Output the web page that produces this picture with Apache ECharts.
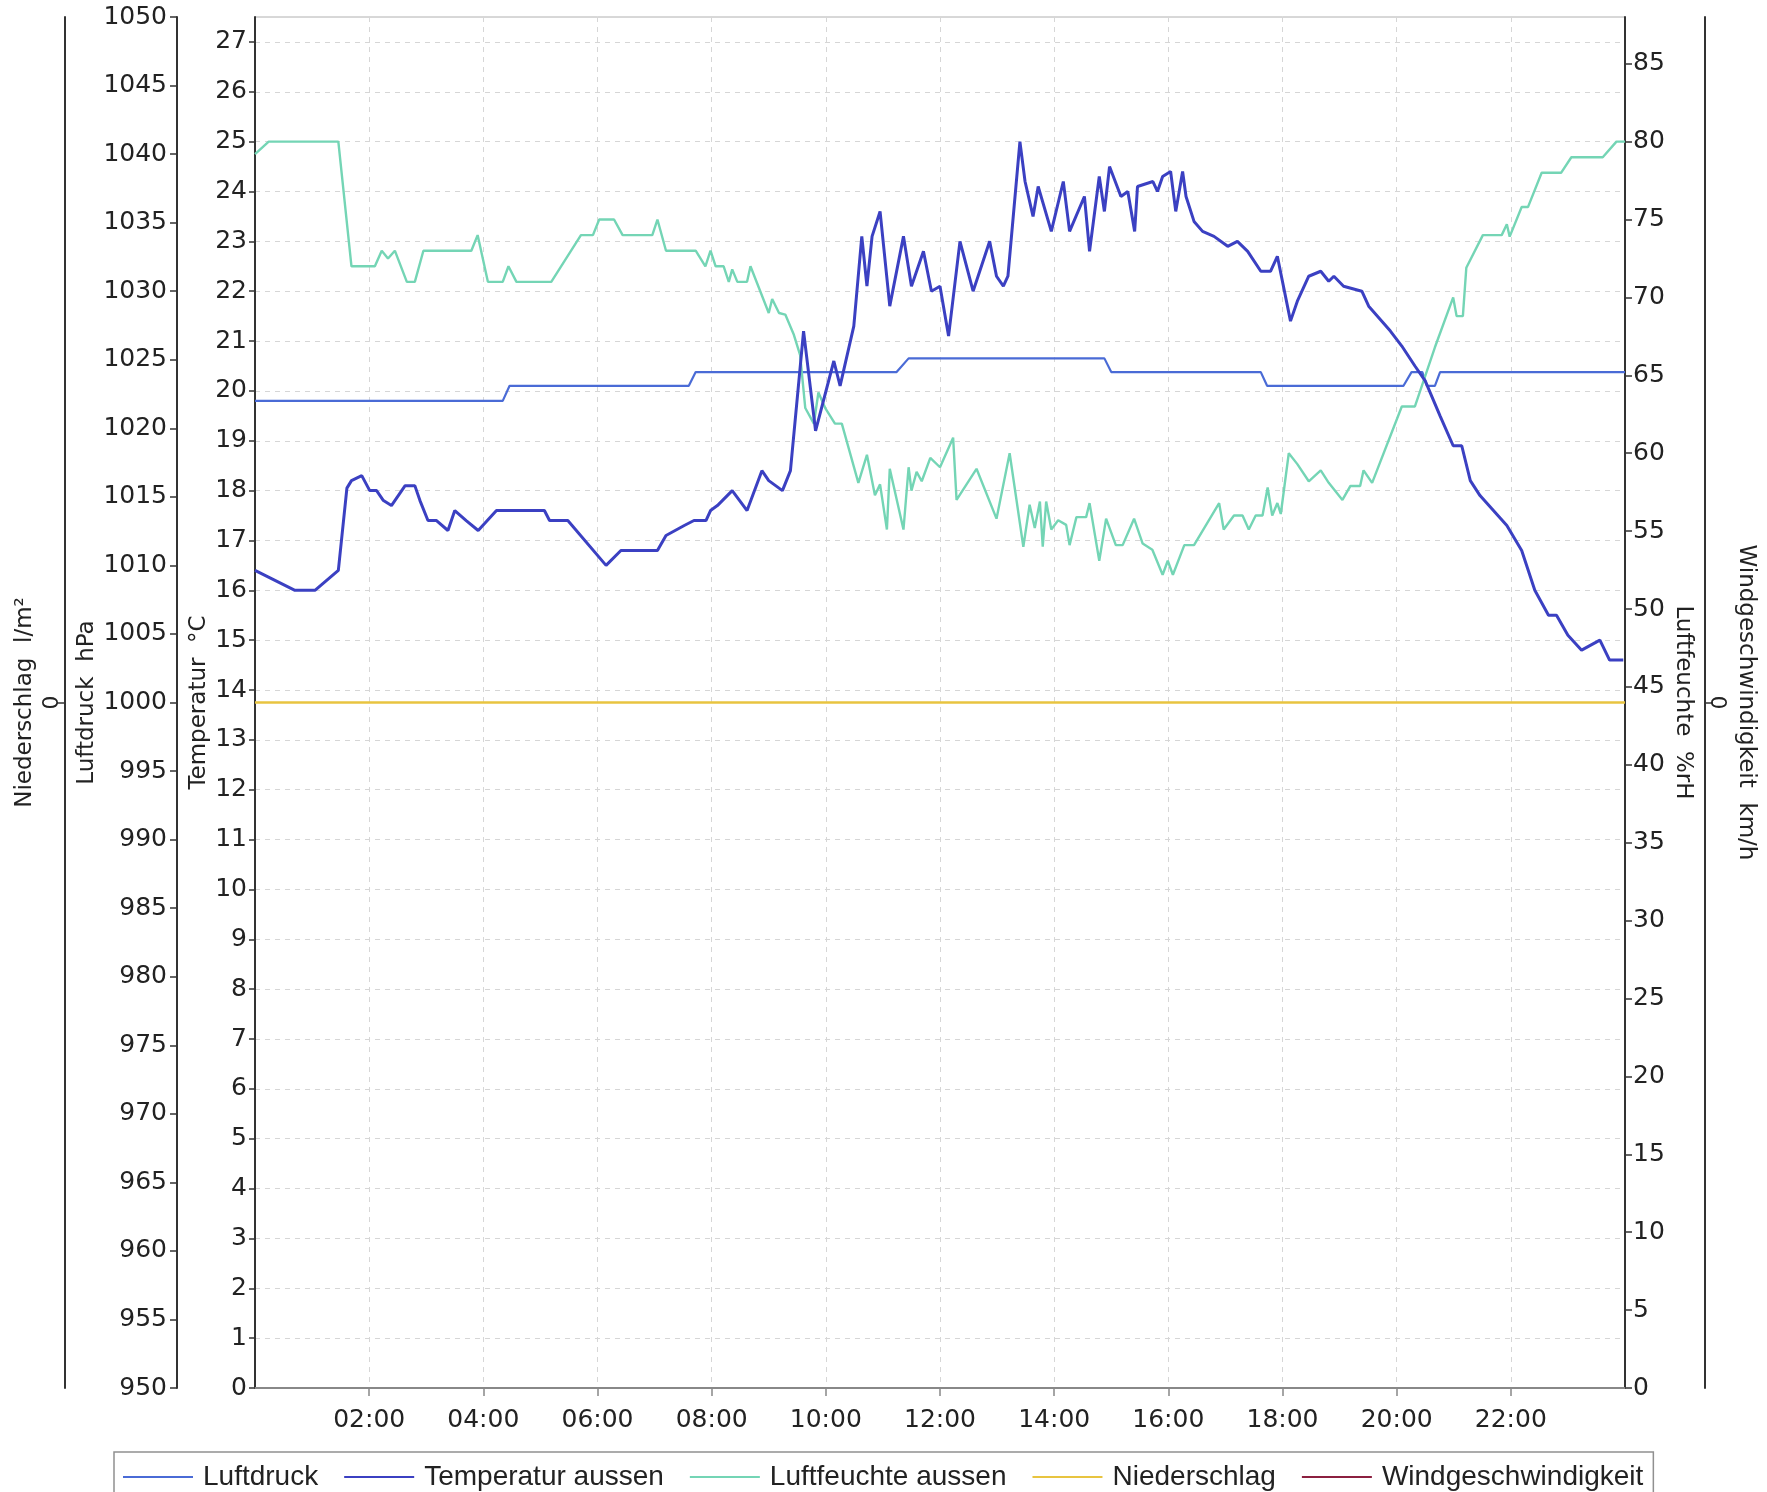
<!DOCTYPE html>
<html>
<head>
<meta charset="utf-8">
<script src="https://cdn.jsdelivr.net/npm/echarts@6/dist/echarts.min.js"></script>
<style>html,body{margin:0;padding:0;background:#fff}#c{width:1767px;height:1492px}</style>
</head>
<body>
<div id="c"></div>
<script>
// ---- Data (time in hours of the day) ----
const tempTicks = [0,1,2,3,4,5,6,7,8,9,10,11,12,13,14,15,16,17,18,19,20,21,22,23,24,25,26,27];
const humTicks  = [0,5,10,15,20,25,30,35,40,45,50,55,60,65,70,75,80,85];

const pressureTimes  = [0,4.34,4.46,7.60,7.72,11.24,11.45,14.88,15.00,17.62,17.73,20.12,20.26,20.45,20.53,20.67,20.76,24];
const pressureValues = [1022,1022,1023.1,1023.1,1024.1,1024.1,1025.1,1025.1,1024.1,1024.1,1023.1,1023.1,1024.1,1024.1,1023.1,1023.1,1024.1,1024.1];

const tempTimes = [0.0,0.7,1.05,1.46,1.61,1.69,1.87,2.01,2.13,2.25,2.39,2.63,2.80,2.89,3.03,3.18,3.38,3.50,3.70,3.91,4.23,5.07,5.16,5.48,6.15,6.41,7.05,7.20,7.52,7.69,7.90,7.98,8.10,8.36,8.62,8.88,9.00,9.24,9.38,9.61,9.82,10.14,10.25,10.49,10.63,10.72,10.81,10.95,11.12,11.36,11.50,11.71,11.85,12.00,12.15,12.35,12.58,12.87,12.99,13.11,13.19,13.40,13.49,13.63,13.72,13.95,14.16,14.27,14.53,14.62,14.79,14.88,14.97,15.17,15.29,15.41,15.46,15.73,15.81,15.90,16.04,16.13,16.25,16.31,16.45,16.60,16.80,17.04,17.21,17.39,17.62,17.79,17.91,18.14,18.26,18.46,18.67,18.81,18.90,19.07,19.39,19.51,19.89,20.09,20.32,20.50,20.76,20.99,21.14,21.29,21.46,21.93,22.19,22.42,22.66,22.80,23.00,23.24,23.56,23.73,23.97];
const tempValues = [16.4,16.0,16.0,16.4,18.05,18.2,18.3,18.0,18.0,17.8,17.7,18.1,18.1,17.8,17.4,17.4,17.2,17.6,17.4,17.2,17.6,17.6,17.4,17.4,16.5,16.8,16.8,17.1,17.3,17.4,17.4,17.6,17.7,18.0,17.6,18.4,18.2,18.0,18.4,21.2,19.2,20.6,20.1,21.3,23.1,22.1,23.1,23.6,21.7,23.1,22.1,22.8,22.0,22.1,21.1,23.0,22.0,23.0,22.3,22.1,22.3,25.0,24.2,23.5,24.1,23.2,24.2,23.2,23.9,22.8,24.3,23.6,24.5,23.9,24.0,23.2,24.1,24.2,24.0,24.3,24.4,23.6,24.4,23.9,23.4,23.2,23.1,22.9,23.0,22.8,22.4,22.4,22.7,21.4,21.8,22.3,22.4,22.2,22.3,22.1,22.0,21.7,21.2,20.9,20.5,20.2,19.5,18.9,18.9,18.2,17.9,17.3,16.8,16.0,15.5,15.5,15.1,14.8,15.0,14.6,14.6];

const humTimes = [0.0,0.24,1.46,1.69,2.10,2.22,2.33,2.45,2.66,2.80,2.95,3.79,3.90,4.08,4.34,4.44,4.58,5.19,5.71,5.92,6.03,6.29,6.44,6.96,7.05,7.20,7.72,7.89,7.98,8.07,8.21,8.30,8.36,8.45,8.62,8.68,9.00,9.06,9.18,9.29,9.44,9.55,9.64,9.79,9.87,9.99,10.16,10.28,10.57,10.72,10.86,10.95,11.07,11.12,11.36,11.45,11.50,11.59,11.68,11.83,12.00,12.23,12.29,12.64,12.99,13.22,13.46,13.57,13.66,13.75,13.80,13.86,13.95,14.07,14.21,14.27,14.39,14.56,14.62,14.79,14.91,15.08,15.20,15.40,15.55,15.72,15.90,15.99,16.08,16.28,16.45,16.89,16.97,17.15,17.30,17.41,17.53,17.65,17.74,17.82,17.91,17.97,18.11,18.26,18.46,18.67,18.81,19.05,19.19,19.36,19.42,19.57,20.09,20.32,20.67,20.99,21.05,21.16,21.22,21.51,21.84,21.93,21.98,22.19,22.30,22.54,22.88,23.06,23.61,23.85,24.0];
const humValues = [79.2,80,80,72,72,73,72.5,73,71,71,73,73,74,71,71,72,71,71,74,74,75,75,74,74,75,73,73,72,73,72,72,71,71.8,71,71,72,69,69.9,69,68.9,67.6,66.3,62.9,61.9,63.9,62.9,61.9,61.9,58.1,59.9,57.3,58,55.1,59,55.1,59.1,57.6,58.8,58.2,59.7,59.1,61,57,59,55.8,60,54,56.7,55.2,56.9,54,56.9,55.1,55.7,55.4,54.1,55.9,55.9,56.8,53.1,55.8,54.1,54.1,55.8,54.2,53.8,52.2,53.1,52.2,54.1,54.1,56.8,55.1,56,56,55.1,56,56,57.8,56,56.8,56.1,60,59.3,58.2,58.9,58.1,57,57.9,57.9,58.9,58.1,63,63,66.8,70,68.8,68.8,71.9,74,74,74.7,73.9,75.8,75.8,78,78,79,79,80,80];

const rainTimes  = [0,24];
const rainValues = [0,0];
const windTimes  = [0,24];
const windValues = [0,0];

const seriesNames = ['Luftdruck','Temperatur aussen','Luftfeuchte aussen','Niederschlag','Windgeschwindigkeit'];
const seriesColors = ['#4a6bd6','#3b40c2','#74d5b5','#e8c440','#8c2040'];

function zip(t, v){ return t.map((x,i)=>[x, v[i]]); }
function pad(n){ return (n<10?'0':'')+n; }

const tickFont = {fontFamily:'DejaVu Sans', fontSize:25, color:'#222', formatter:v=>String(v)};
const nameFont = {fontFamily:'DejaVu Sans', fontSize:23, color:'#222'};
const axisLineDark = {show:true, lineStyle:{color:'#333', width:2}};
const gridLine = {show:true, lineStyle:{color:'#d6d6d6', type:[5,5], width:1}};

const chart = echarts.init(document.getElementById('c'), null, {renderer:'canvas'});
chart.setOption({
  backgroundColor:'#ffffff',
  animation:false,
  grid:{left:255, right:142, top:17, bottom:104, show:true, borderColor:'#b0b0b0', borderWidth:1,
        containLabel:false, outerBoundsMode:'none'},
  legend:{
    left:114, top:1452,
    padding:[11,10,11,9],
    borderColor:'#909090', borderWidth:1.5,
    icon:'rect', itemWidth:70, itemHeight:2, itemGap:26,
    textStyle:{fontFamily:'Liberation Sans', fontSize:28, color:'#222', padding:[0,0,0,5]},
    data:seriesNames
  },
  xAxis:{
    type:'value', min:0, max:24, interval:2,
    axisLine:{show:true, onZero:false, lineStyle:{color:'#888', width:2}},
    axisTick:{show:true, length:8, lineStyle:{color:'#888', width:1.5}},
    axisLabel:{fontFamily:'DejaVu Sans', fontSize:25, color:'#222', margin:20, showMinLabel:false, showMaxLabel:false,
      formatter:v=>pad(v)+':00'},
    splitLine:gridLine
  },
  yAxis:[
    { // 0 Temperatur
      type:'value', position:'left', offset:0, min:0, max:27.5,
      name:'Temperatur  °C', nameLocation:'middle', nameGap:44, nameRotate:90, nameMoveOverlap:false, nameTextStyle:nameFont,
      axisLine:axisLineDark,
      axisTick:{show:true, length:6, customValues:tempTicks, lineStyle:{color:'#333', width:1.5}},
      axisLabel:Object.assign({}, tickFont, {margin:8, customValues:tempTicks}),
      splitLine:gridLine
    },
    { // 1 Luftdruck
      type:'value', position:'left', offset:78, min:950, max:1050, interval:5,
      name:'Luftdruck  hPa', nameLocation:'middle', nameGap:78, nameRotate:90, nameMoveOverlap:false, nameTextStyle:nameFont,
      axisLine:axisLineDark, axisTick:{show:true, length:7, lineStyle:{color:'#333', width:1.5}},
      axisLabel:Object.assign({}, tickFont, {margin:10}),
      splitLine:{show:false}
    },
    { // 2 Niederschlag
      type:'value', position:'left', offset:190, min:-1, max:1, interval:1,
      name:'Niederschlag  l/m²', nameLocation:'middle', nameGap:28, nameRotate:90, nameMoveOverlap:false, nameTextStyle:nameFont,
      axisLine:axisLineDark,
      axisTick:{show:true, length:8, customValues:[0], lineStyle:{color:'#333', width:1.5}},
      axisLabel:Object.assign({}, tickFont, {fontSize:22, margin:2, rotate:90, customValues:[0]}),
      splitLine:{show:false}
    },
    { // 3 Luftfeuchte
      type:'value', position:'right', offset:0, min:0, max:88,
      name:'Luftfeuchte  %rH', nameLocation:'middle', nameGap:46, nameRotate:-90, nameMoveOverlap:false, nameTextStyle:nameFont,
      axisLine:axisLineDark,
      axisTick:{show:true, length:7, customValues:humTicks, lineStyle:{color:'#333', width:1.5}},
      axisLabel:Object.assign({}, tickFont, {margin:8, customValues:humTicks}),
      splitLine:{show:false}
    },
    { // 4 Windgeschwindigkeit
      type:'value', position:'right', offset:80, min:-1, max:1, interval:1,
      name:'Windgeschwindigkeit  km/h', nameLocation:'middle', nameGap:29, nameRotate:-90, nameMoveOverlap:false, nameTextStyle:nameFont,
      axisLine:axisLineDark,
      axisTick:{show:true, length:8, customValues:[0], lineStyle:{color:'#333', width:1.5}},
      axisLabel:Object.assign({}, tickFont, {fontSize:22, margin:1, rotate:-90, customValues:[0]}),
      splitLine:{show:false}
    }
  ],
  series:[
    {name:seriesNames[4], type:'line', yAxisIndex:4, data:zip(windTimes, windValues), symbol:'none',
      color:seriesColors[4], lineStyle:{width:1, color:seriesColors[4]}, z:2},
    {name:seriesNames[0], type:'line', yAxisIndex:1, data:zip(pressureTimes, pressureValues), symbol:'none',
      color:seriesColors[0], lineStyle:{width:2.2, color:seriesColors[0]}, z:3},
    {name:seriesNames[3], type:'line', yAxisIndex:2, data:zip(rainTimes, rainValues), symbol:'none',
      color:seriesColors[3], lineStyle:{width:2.4, color:seriesColors[3]}, z:3},
    {name:seriesNames[2], type:'line', yAxisIndex:3, data:zip(humTimes, humValues), symbol:'none',
      color:seriesColors[2], lineStyle:{width:2.4, color:seriesColors[2]}, z:4},
    {name:seriesNames[1], type:'line', yAxisIndex:0, data:zip(tempTimes, tempValues), symbol:'none',
      color:seriesColors[1], lineStyle:{width:3, color:seriesColors[1]}, z:5}
  ]
});
</script>
</body>
</html>
